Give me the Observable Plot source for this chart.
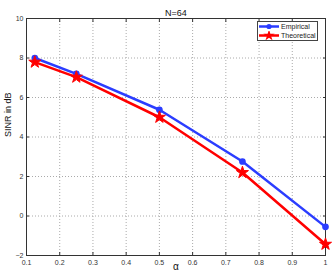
<!DOCTYPE html>
<html><head><meta charset="utf-8">
<script src="https://cdn.jsdelivr.net/npm/d3@7"></script>
<script src="https://cdn.jsdelivr.net/npm/@observablehq/plot@0.6"></script>
<style>
body{margin:0;background:#fff;font-family:"Liberation Sans",Arial,sans-serif;}
#wrap{position:relative;width:332px;height:277px;}
#legend{position:absolute;left:257px;top:21px;width:61px;height:20px;border:1px solid #444;background:#fff;font-size:7px;color:#222;box-sizing:border-box;}
#legend div{display:flex;align-items:center;height:9px;}
</style></head><body>
<div id="wrap"></div>
<script>
const alphas = [0.125, 0.25, 0.5, 0.75, 1];
const empirical = [8.0, 7.2, 5.38, 2.76, -0.55];
const theoretical = [7.79, 7.03, 5.0, 2.2, -1.43];
const xTicks = [0.1,0.2,0.3,0.4,0.5,0.6,0.7,0.8,0.9,1];
const yTicks = [-2,0,2,4,6,8,10];
const seriesNames = ["Empirical","Theoretical"];
const colors = ["#2b3dff","#ff0000"];

const emp = alphas.map((a,i)=>({a, v: empirical[i]}));
const th = alphas.map((a,i)=>({a, v: theoretical[i]}));

const chart = Plot.plot({
  width: 332, height: 277,
  marginLeft: 26, marginRight: 7, marginTop: 18, marginBottom: 22,
  style: {fontFamily: '"Liberation Sans",Arial,sans-serif', fontSize: "7px", color: "#333", background: "#fff"},
  x: {domain: [0.1, 1]},
  y: {domain: [-2, 10]},
  marks: [
    Plot.gridX(xTicks, {stroke: "#aaa", strokeOpacity: 1, strokeDasharray: "1,2"}),
    Plot.gridY(yTicks, {stroke: "#aaa", strokeOpacity: 1, strokeDasharray: "1,2"}),
    Plot.frame({stroke: "#333", strokeWidth: 1}),
    Plot.axisX(xTicks, {anchor: "bottom", tickSize: -3, tickPadding: 8, label: null, tickFormat: d => String(d)}),
    Plot.axisX(xTicks, {anchor: "top", tickSize: -3, text: null, label: null}),
    Plot.axisY(yTicks, {anchor: "left", tickSize: -3, tickPadding: 6, label: null}),
    Plot.axisY(yTicks, {anchor: "right", tickSize: -3, text: null, label: null}),
    Plot.line(emp, {x: "a", y: "v", stroke: colors[0], strokeWidth: 2.5}),
    Plot.dot(emp, {x: "a", y: "v", fill: colors[0], stroke: colors[0], r: 2.6, symbol: "circle"}),
    Plot.line(th, {x: "a", y: "v", stroke: colors[1], strokeWidth: 2.5}),
    Plot.dot(th, {x: "a", y: "v", fill: colors[1], stroke: colors[1], strokeWidth: 1, r: 3.8, symbol: "star"}),
    Plot.text(["N=64"], {frameAnchor: "top", dy: -9, fontSize: 9, fill: "#111"}),
    Plot.text(["SINR in dB"], {frameAnchor: "left", dx: -18, rotate: -90, fontSize: 9, fill: "#111"}),
    Plot.text(["α"], {frameAnchor: "bottom", dy: 14, fontSize: 10, fill: "#111"})
  ]
});
const wrap = document.getElementById("wrap");
wrap.appendChild(chart);

const leg = document.createElement("div");
leg.id = "legend";
seriesNames.forEach((n,i)=>{
  const row = document.createElement("div");
  const sym = i===0
    ? `<circle cx="11" cy="4.5" r="2.6" fill="${colors[0]}"/>`
    : `<path d="${d3.symbol(d3.symbolStar, 40)()}" transform="translate(11,4.5)" fill="${colors[1]}"/>`;
  row.innerHTML = `<svg width="22" height="9" style="flex:none"><line x1="1" x2="21" y1="4.5" y2="4.5" stroke="${colors[i]}" stroke-width="2.5"/>${sym}</svg><span style="margin-left:1px">${n}</span>`;
  leg.appendChild(row);
});
wrap.appendChild(leg);
</script>
</body></html>
